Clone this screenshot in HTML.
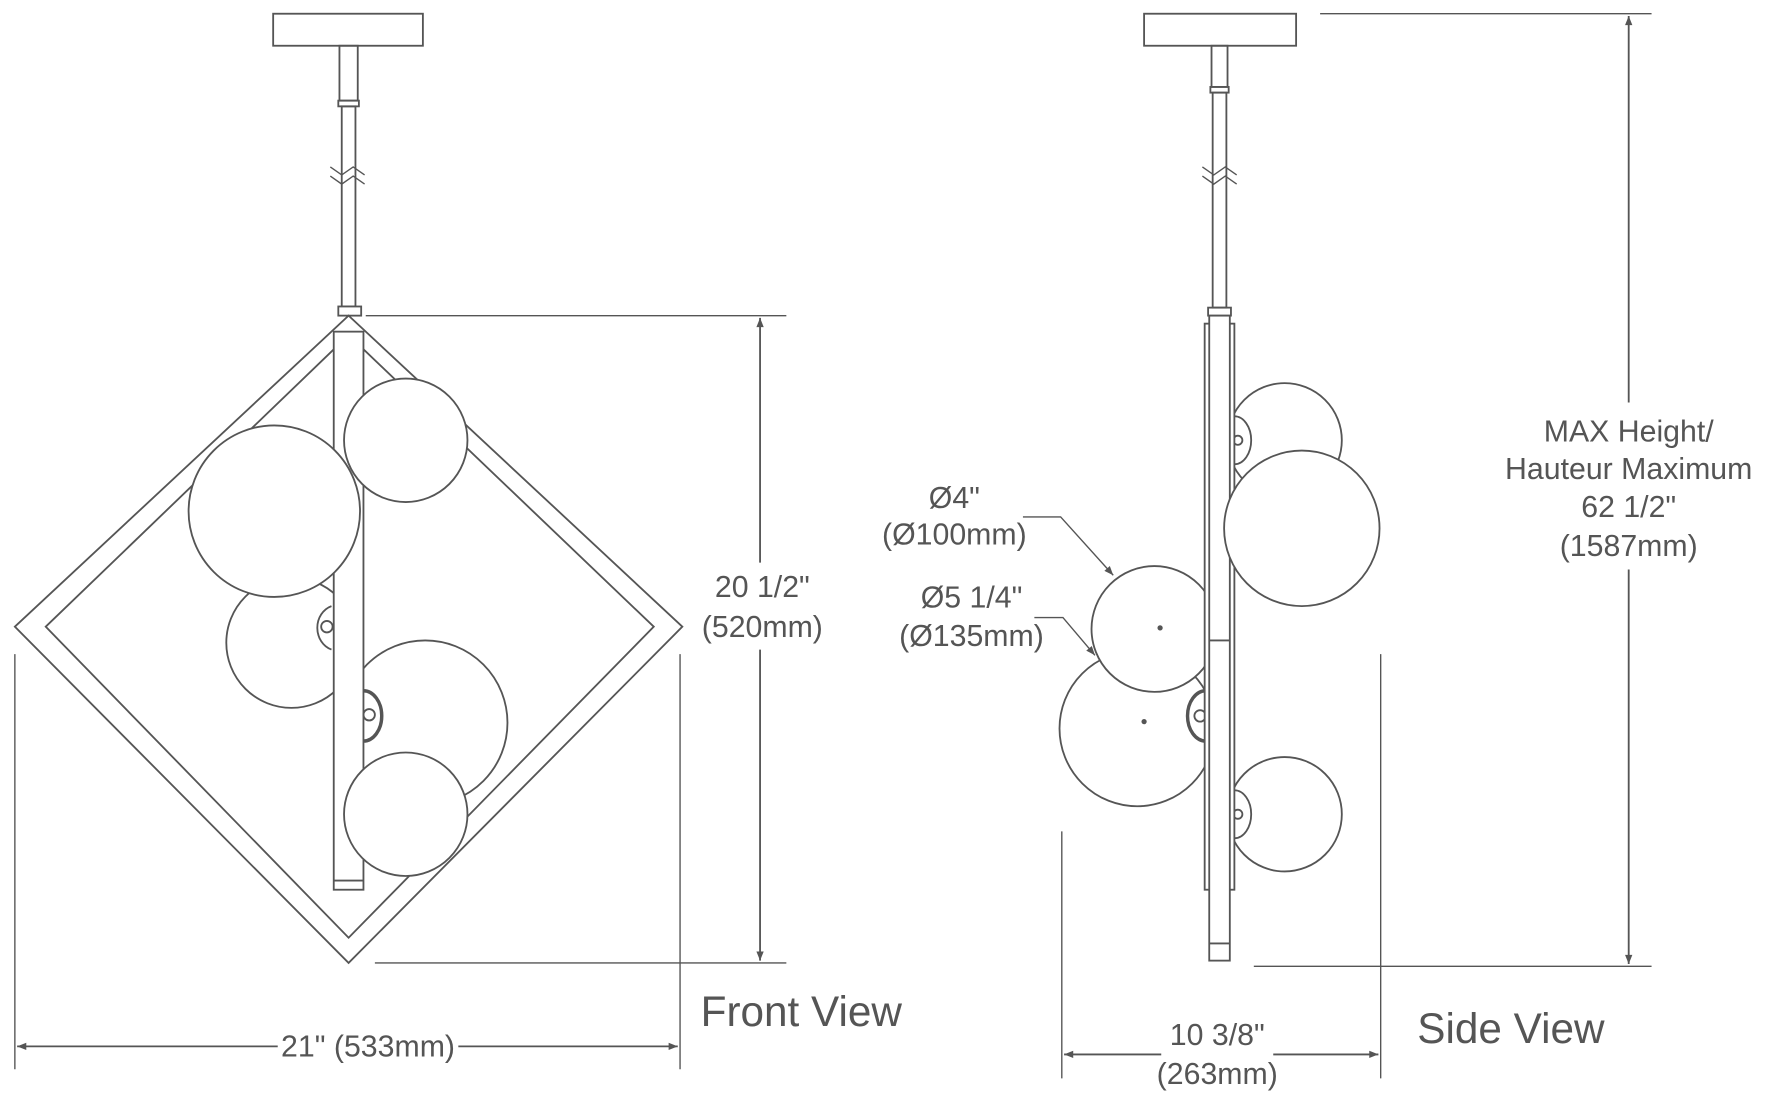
<!DOCTYPE html>
<html><head><style>html,body{margin:0;padding:0;background:#fff}svg{display:block}</style></head>
<body>
<svg width="1791" height="1099" viewBox="0 0 1567 961" preserveAspectRatio="none" xmlns="http://www.w3.org/2000/svg">
<defs>
<marker id="a" viewBox="0 0 10 10" refX="10" refY="5" markerWidth="12" markerHeight="8" orient="auto-start-reverse" markerUnits="userSpaceOnUse"><path d="M0,1 L10,5 L0,9 z" fill="#555"/></marker>
</defs>
<g fill="none" stroke="#555" stroke-width="1.6" font-family="Liberation Sans, sans-serif">
<!-- FRONT VIEW -->
<rect x="239" y="12" width="131" height="28" fill="#fff"/>
<rect x="297" y="40" width="16" height="48"/>
<rect x="296" y="88" width="18" height="5"/>
<rect x="299" y="93" width="12" height="175"/>
<path d="M289,146 l10,7 l10,-7 l10,7 M289,154 l10,7 l10,-7 l10,7" stroke-width="1.2"/>
<rect x="296" y="268" width="20" height="8" fill="#fff"/>
<path d="M305,276 L597,548 L305,842 L13,548 Z"/>
<path d="M305,293 L572,548 L305,820 L40,548 Z"/>
<circle cx="255" cy="562" r="57" fill="#fff"/>
<path d="M290,530 a18,20 0 0 0 0,38" />
<circle cx="286" cy="548" r="5"/>
<circle cx="372" cy="632" r="72" fill="#fff"/>
<rect x="292" y="290" width="26" height="488" fill="#fff"/>
<line x1="292" y1="770" x2="318" y2="770"/>
<path d="M318,604 a16,22 0 0 1 0,44" stroke-width="3"/>
<circle cx="323" cy="625" r="5"/>
<circle cx="355" cy="385" r="54" fill="#fff"/>
<circle cx="240" cy="447" r="75" fill="#fff"/>
<circle cx="355" cy="712" r="54" fill="#fff"/>
<line x1="320" y1="276" x2="688" y2="276" stroke-width="1.2"/>
<line x1="328" y1="842" x2="688" y2="842" stroke-width="1.2"/>
<line x1="665" y1="278" x2="665" y2="492" marker-start="url(#a)"/>
<line x1="665" y1="568" x2="665" y2="840" marker-end="url(#a)"/>
<line x1="13" y1="572" x2="13" y2="935" stroke-width="1.2"/>
<line x1="595" y1="572" x2="595" y2="935" stroke-width="1.2"/>
<line x1="15" y1="915" x2="243" y2="915" marker-start="url(#a)"/>
<line x1="401" y1="915" x2="593" y2="915" marker-end="url(#a)"/>
<g fill="#555" stroke="none" font-size="26.5" text-anchor="middle">
<text x="667" y="522">20 1/2"</text>
<text x="667" y="557">(520mm)</text>
<text x="322" y="924">21" (533mm)</text>
<text x="613" y="897" font-size="37" text-anchor="start">Front View</text>
</g>
<!-- SIDE VIEW -->
<rect x="1001" y="12" width="133" height="28" fill="#fff"/>
<rect x="1060" y="40" width="14" height="36"/>
<rect x="1059" y="76" width="16" height="5"/>
<rect x="1061" y="81" width="12" height="188"/>
<path d="M1052,146 l10,7 l10,-7 l10,7 M1052,154 l10,7 l10,-7 l10,7" stroke-width="1.2"/>
<rect x="1057" y="269" width="20" height="7"/>
<circle cx="1124" cy="385" r="50" fill="#fff"/>
<path d="M1080,364 a14,20 0 0 1 0,42"/>
<circle cx="1083" cy="385" r="4"/>
<circle cx="1124" cy="712" r="50" fill="#fff"/>
<path d="M1080,691 a14,20 0 0 1 0,42"/>
<circle cx="1083" cy="712" r="4"/>
<circle cx="995" cy="637" r="68" fill="#fff"/>
<circle cx="1010" cy="550" r="55" fill="#fff"/>
<path d="M1055,604 a16,22 0 0 0 0,44" stroke-width="3"/>
<circle cx="1050" cy="626" r="5"/>
<rect x="1054" y="283" width="26" height="495" fill="#fff"/>
<rect x="1058" y="276" width="18" height="564" fill="#fff"/>
<line x1="1058" y1="560" x2="1076" y2="560"/>
<line x1="1058" y1="825" x2="1076" y2="825"/>
<circle cx="1139" cy="462" r="68" fill="#fff"/>
<circle cx="1015" cy="549" r="1.5" fill="#555"/>
<circle cx="1001" cy="631" r="1.5" fill="#555"/>
<polyline points="895,452 928,452 974,503" stroke-width="1.2" marker-end="url(#a)"/>
<polyline points="905,540 930,540 958,573" stroke-width="1.2" marker-end="url(#a)"/>
<line x1="1155" y1="12" x2="1445" y2="12" stroke-width="1.2"/>
<line x1="1097" y1="845" x2="1445" y2="845" stroke-width="1.2"/>
<line x1="1425" y1="14" x2="1425" y2="352" marker-start="url(#a)"/>
<line x1="1425" y1="498" x2="1425" y2="843" marker-end="url(#a)"/>
<line x1="929" y1="727" x2="929" y2="943" stroke-width="1.2"/>
<line x1="1208" y1="572" x2="1208" y2="943" stroke-width="1.2"/>
<line x1="931" y1="922" x2="1016" y2="922" marker-start="url(#a)"/>
<line x1="1114" y1="922" x2="1206" y2="922" marker-end="url(#a)"/>
<g fill="#555" stroke="none" font-size="26.5" text-anchor="middle">
<text x="835" y="444">Ø4"</text>
<text x="835" y="476">(Ø100mm)</text>
<text x="850" y="531">Ø5 1/4"</text>
<text x="850" y="565">(Ø135mm)</text>
<text x="1425" y="386">MAX Height/</text>
<text x="1425" y="419">Hauteur Maximum</text>
<text x="1425" y="452">62 1/2"</text>
<text x="1425" y="486">(1587mm)</text>
<text x="1065" y="914">10 3/8"</text>
<text x="1065" y="948">(263mm)</text>
<text x="1240" y="912" font-size="37" text-anchor="start">Side View</text>
</g>
</g>
</svg>
</body></html>
